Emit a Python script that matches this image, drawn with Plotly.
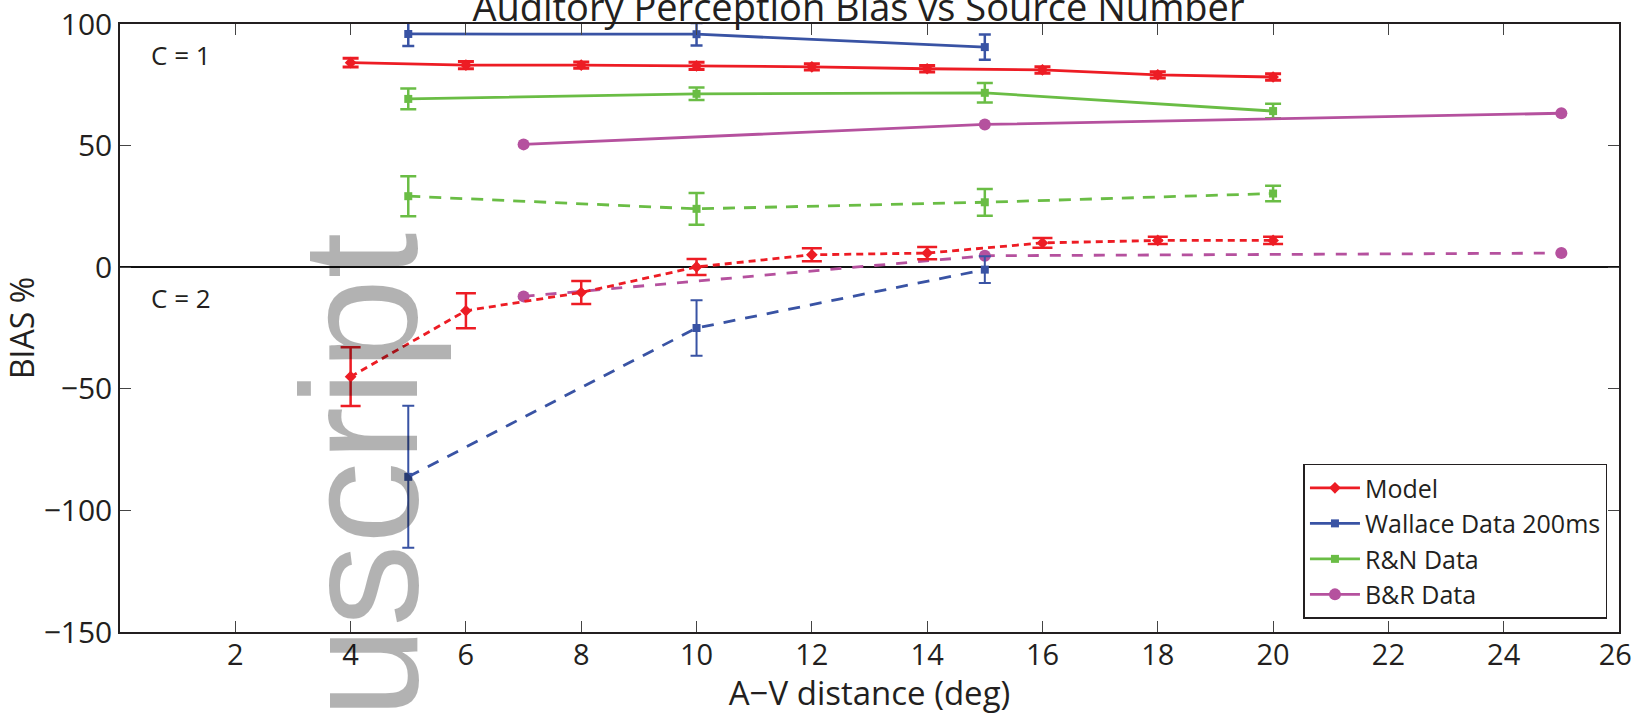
import plotly.graph_objects as go

# ---------------- data ----------------
model_x = [4, 6, 8, 10, 12, 14, 16, 18, 20]
model_c1 = [84.1, 83.1, 83.1, 82.8, 82.4, 81.6, 81.1, 79.1, 78.2]
model_c1_err = [1.8, 1.5, 1.3, 1.5, 1.3, 1.3, 1.3, 1.3, 1.3]
model_c2 = [-45.0, -17.9, -10.4, 0.1, 5.1, 5.8, 10.0, 11.0, 11.0]
model_c2_err = [12.1, 7.2, 4.7, 3.3, 2.7, 2.5, 2.0, 1.5, 1.5]

wallace_x = [5, 10, 15]
wallace_c1 = [95.9, 95.8, 90.5]
wallace_c1_err = [4.9, 4.6, 5.2]
wallace_c2 = [-86.2, -25.0, -1.0]
wallace_c2_err = [29.2, 11.4, 5.5]

rn_x = [5, 10, 15, 20]
rn_c1 = [69.2, 71.3, 71.7, 64.2]
rn_c1_err = [4.3, 2.6, 4.0, 3.0]
rn_c2 = [29.2, 24.0, 26.7, 30.3]
rn_c2_err = [8.2, 6.5, 5.5, 3.2]

br_x = [7, 15, 25]
br_c1 = [50.5, 58.7, 63.3]
br_c2 = [-12.0, 4.7, 5.8]

x_ticks = [2, 4, 6, 8, 10, 12, 14, 16, 18, 20, 22, 24, 26]
x_tick_labels = ["2", "4", "6", "8", "10", "12", "14", "16", "18", "20", "22", "24", "26\u00a0"]
y_ticks = [-150, -100, -50, 0, 50, 100]

RED = "#ED1C24"
BLUE = "#3953A4"
GREEN = "#6ABD45"
MAGENTA = "#B5519E"
FONT = "Open Sans"
TXT = "#231F20"

fig = go.Figure()


def add(x, y, err, color, name, symbol, msize, dash, show, lw=2.8, capw=7, eth=2.5):
    kw = {}
    if err is not None:
        kw["error_y"] = dict(type="data", array=err, visible=True, color=color,
                             thickness=eth, width=capw)
    fig.add_trace(go.Scatter(
        x=x, y=y, mode="lines+markers", name=name, showlegend=show,
        line=dict(color=color, width=lw, dash=dash),
        marker=dict(symbol=symbol, size=msize, color=color),
        **kw))


# C = 2 (dashed / dotted)
add(rn_x, rn_c2, rn_c2_err, GREEN, "R&N Data", "square", 8, "12px,9px", False, capw=8)
add(br_x, br_c2, None, MAGENTA, "B&R Data", "circle", 12, "11px,11px", False)
add(wallace_x, wallace_c2, wallace_c2_err, BLUE, "Wallace Data 200ms", "square", 8, "12px,10px", False, capw=6, eth=2)
add(model_x, model_c2, model_c2_err, RED, "Model", "diamond", 9, "7px,5px", False, capw=10)

# C = 1 (solid) – legend entries
add(model_x, model_c1, model_c1_err, RED, "Model", "diamond", 9, "solid", True, capw=8, eth=3)
add(wallace_x, wallace_c1, wallace_c1_err, BLUE, "Wallace Data 200ms", "square", 8, "solid", True, capw=6, eth=2.5)
add(rn_x, rn_c1, rn_c1_err, GREEN, "R&N Data", "square", 8, "solid", True, capw=8)
add(br_x, br_c1, None, MAGENTA, "B&R Data", "circle", 12, "solid", True)

for tr, rank in zip(fig.data[4:], [1, 2, 3, 4]):
    tr.legendrank = rank

fig.update_layout(
    width=1632, height=715,
    margin=dict(l=120, r=13, t=24, b=83, autoexpand=False),
    paper_bgcolor="white", plot_bgcolor="white",
    font=dict(family=FONT, color=TXT, size=26),
    title=dict(text="Auditory Perception Bias vs Source Number",
               x=0.526, xanchor="center", y=1 - 21 / 715, yanchor="bottom",
               yref="container", font=dict(size=38, family=FONT, color=TXT)),
    showlegend=True,
    legend=dict(x=0.9923, xanchor="right", y=0.022, yanchor="bottom",
                bgcolor="white", bordercolor=TXT, borderwidth=1.5,
                font=dict(size=25, family=FONT, color=TXT),
                itemwidth=50, tracegroupgap=0),
    xaxis=dict(range=[0, 26], tickvals=x_ticks, ticktext=x_tick_labels,
               ticks="inside", ticklen=11,
               tickcolor="#444", tickwidth=1.2, showline=True, linecolor=TXT,
               linewidth=1.5, mirror="ticks", showgrid=False, zeroline=False,
               automargin=False, ticklabeloverflow="allow",
               tickfont=dict(size=29), ticklabelstandoff=-4,
               title=dict(text="A\u2212V distance (deg)", font=dict(size=33), standoff=6)),
    yaxis=dict(range=[-150, 100], tickvals=y_ticks, ticks="inside", ticklen=11,
               tickcolor="#444", tickwidth=1.2, showline=True, linecolor=TXT,
               linewidth=1.5, mirror="ticks", showgrid=False, zeroline=True,
               zerolinecolor="#111", zerolinewidth=1.5, automargin=False,
               tickfont=dict(size=30), ticklabelstandoff=0,
               title=dict(text="BIAS %", font=dict(size=32), standoff=6)),
)

fig.add_annotation(x=0.5, y=87.3, xref="x", yref="y", text="C = 1", showarrow=False,
                   xanchor="left", yanchor="middle", font=dict(size=26, family=FONT, color=TXT))
fig.add_annotation(x=0.5, y=-12.7, xref="x", yref="y", text="C = 2", showarrow=False,
                   xanchor="left", yanchor="middle", font=dict(size=26, family=FONT, color=TXT))

# watermark fragment
fig.add_annotation(x=0.160, y=0.257, xref="paper", yref="paper", text="uscript",
                   showarrow=False, textangle=-90, xanchor="center", yanchor="middle",
                   font=dict(size=165, family="Liberation Sans", color="rgba(0,0,0,0.3)"))

fig.write_html("out.html")
